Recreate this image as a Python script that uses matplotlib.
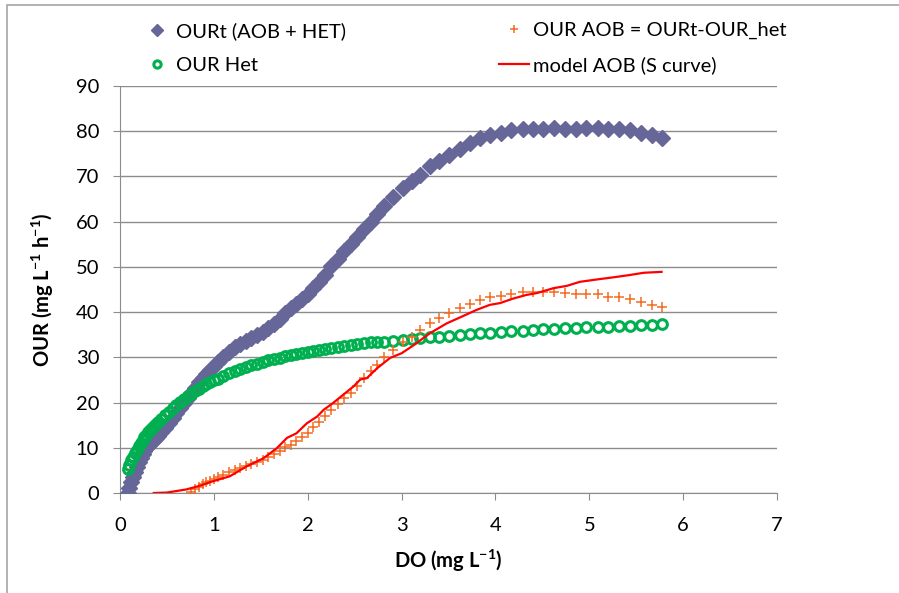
import numpy as np
import matplotlib
matplotlib.use('Agg')
import matplotlib.pyplot as plt
from matplotlib.patches import Rectangle

plt.rcParams['font.family'] = ['Lato', 'DejaVu Sans']
plt.rcParams['mathtext.fontset'] = 'custom'
plt.rcParams['mathtext.rm'] = 'Lato:bold'
plt.rcParams['mathtext.default'] = 'rm'

# DO (mg/L) shared by the measured series
do = [0.08, 0.10, 0.12, 0.14, 0.16, 0.18, 0.20, 0.22, 0.24, 0.26, 0.28, 0.30,
      0.32, 0.34, 0.36, 0.38, 0.40,
      0.44, 0.48, 0.52, 0.56, 0.60, 0.64, 0.68, 0.72, 0.76, 0.80, 0.84, 0.88,
      0.92, 0.96, 1.00,
      1.04, 1.10, 1.16, 1.22, 1.28, 1.34, 1.40, 1.46, 1.52, 1.58, 1.64, 1.70,
      1.76, 1.82, 1.88, 1.94, 2.00, 2.06, 2.12, 2.18,
      2.25, 2.32, 2.39, 2.46, 2.53, 2.60, 2.67, 2.74,
      2.81, 2.91, 3.01, 3.11, 3.20, 3.30, 3.40, 3.51, 3.62, 3.73, 3.84, 3.94,
      4.06, 4.17, 4.29, 4.40, 4.51, 4.62, 4.74, 4.86, 4.97, 5.09, 5.20, 5.32,
      5.43, 5.55, 5.67, 5.77]

our_t = [0.0, 1.2, 2.4, 3.5, 4.6, 5.7, 6.8, 7.7, 8.6, 9.3, 9.9, 10.4,
         10.9, 11.4, 11.8, 12.2, 12.6,
         13.4, 14.4, 15.5, 16.6, 17.7, 18.8, 20.0, 21.1, 22.2, 23.3, 24.5, 25.5,
         26.4, 27.2, 28.0,
         29.0, 30.1, 31.2, 32.2, 33.0, 33.7, 34.3, 34.9, 35.6, 36.4, 37.4, 38.4,
         39.8, 40.8, 41.8, 42.8, 43.9, 45.3, 46.6, 48.2,
         50.2, 51.8, 53.5, 55.0, 56.6, 58.4, 60.0, 61.7,
         63.5, 65.4, 67.4, 68.9, 70.3, 72.2, 73.5, 74.7, 76.0, 77.3, 78.4, 79.2,
         79.7, 80.3, 80.6, 80.6, 80.6, 80.8, 80.6, 80.6, 80.8, 80.8, 80.6, 80.4,
         80.3, 79.5, 79.2, 78.6]

our_het = [5.3, 6.3, 7.2, 8.0, 8.8, 9.6, 10.3, 11.0, 11.7, 12.3, 12.9, 13.4,
           13.9, 14.4, 14.8, 15.2, 15.6,
           16.4, 17.2, 18.0, 18.7, 19.4, 20.1, 20.8, 21.4, 22.0, 22.6, 23.1, 23.6,
           24.1, 24.5, 24.9,
           25.3, 25.9, 26.5, 26.9, 27.4, 27.8, 28.2, 28.6, 29.0, 29.3, 29.7, 29.9,
           30.2, 30.5, 30.7, 31.0, 31.2, 31.4, 31.6, 31.8,
           32.1, 32.3, 32.5, 32.8, 32.9, 33.1, 33.3, 33.4,
           33.5, 33.6, 33.8, 34.0, 34.2, 34.4, 34.6, 34.7, 34.9, 35.2, 35.3, 35.4,
           35.7, 35.8, 35.9, 36.0, 36.2, 36.3, 36.4, 36.5, 36.6, 36.8, 36.8, 36.9,
           37.0, 37.2, 37.2, 37.3]

nan = np.nan
# negative at low DO -> below the axis, left out
our_aob = [nan, nan, nan, nan, nan, nan, nan, nan, nan, nan, nan, nan,
           nan, nan, nan, nan, nan,
           nan, nan, nan, nan, nan, nan, nan, nan, 0.3, 0.8, 1.4, 1.9,
           2.4, 2.7, 3.1,
           3.5, 4.0, 4.6, 5.1, 5.6, 6.0, 6.4, 6.8, 7.3, 7.9, 8.7, 9.3,
           10.1, 10.6, 11.4, 12.4, 13.3, 14.5, 15.6, 17.0,
           18.3, 19.6, 20.9, 22.1, 23.7, 25.4, 26.9, 28.4,
           30.1, 31.6, 33.5, 34.6, 36.0, 37.7, 38.8, 39.9, 40.8, 41.9, 42.7, 43.3,
           43.6, 43.9, 44.5, 44.4, 44.4, 44.5, 44.2, 44.0, 44.0, 43.9, 43.4, 43.3,
           43.0, 42.3, 41.6, 41.1]

model_do = [0.36, 0.50, 0.71, 0.85, 0.99, 1.17, 1.35, 1.53, 1.67, 1.78, 1.88,
            1.99, 2.10, 2.17, 2.27, 2.40, 2.49, 2.56, 2.63, 2.74, 2.88, 3.00,
            3.13, 3.30, 3.48, 3.62, 3.80, 3.94, 4.05, 4.19, 4.33, 4.44, 4.62,
            4.76, 4.90, 5.11, 5.26, 5.43, 5.58, 5.77]
model_aob = [0.0, 0.1, 0.8, 1.6, 2.6, 3.7, 5.9, 7.7, 9.9, 12.2, 13.2,
             15.4, 16.9, 18.4, 19.9, 22.1, 23.6, 25.1, 25.4, 27.6, 29.9, 30.9,
             32.7, 35.3, 37.5, 38.8, 40.5, 41.6, 42.0, 43.0, 43.8, 44.2, 45.3,
             45.8, 46.7, 47.3, 47.7, 48.2, 48.7, 48.9]

fig = plt.figure(figsize=(8.99, 5.93), dpi=100)
ax = fig.add_axes([120/899, 1-493/593, 657/899, 407/593])

h1, = ax.plot(do, our_t, 'D', color='#666699', ms=8, mec='#666699', label='OURt (AOB + HET)', zorder=3)
h2, = ax.plot(do, our_aob, '+', color='#F26B21', ms=7, mew=1.1, label='OUR AOB = OURt-OUR_het', zorder=4)
h3, = ax.plot(do, our_het, 'o', mfc='none', mec='#00B050', ms=7, mew=2.2, label='OUR Het', zorder=3)
h4, = ax.plot(model_do, model_aob, '-', color='#FF0000', lw=1.6, label='model AOB (S curve)', zorder=5)

ax.set_xlim(0, 7)
ax.set_ylim(0, 90)
ax.set_xticks(range(0, 8))
ax.set_yticks(range(0, 91, 10))
ax.grid(axis='y', color='#8c8c8c', lw=1)
ax.set_axisbelow(True)
for s in ['top', 'right']:
    ax.spines[s].set_visible(False)
for s in ['left', 'bottom']:
    ax.spines[s].set_color('#8c8c8c')
ax.tick_params(axis='both', colors='#8c8c8c', labelcolor='black', labelsize=14.5, length=5, direction='out')
ax.tick_params(axis='x', pad=12)
ax.tick_params(axis='y', pad=10)

ax.set_xlabel('DO (mg L$^{-1}$)', fontsize=14.5, fontweight='bold', labelpad=10)
ax.set_ylabel('OUR (mg L$^{-1}$ h$^{-1}$)', fontsize=14.5, fontweight='bold', labelpad=14)

leg_kw = dict(frameon=False, fontsize=14.5, handlelength=1.5, handletextpad=0.2,
              markerscale=0.75, labelspacing=0.85, borderpad=0, loc='upper left')
leg1 = fig.legend(handles=[h1, h3], bbox_to_anchor=(132/899, 1-12/593), **leg_kw)
leg2 = fig.legend(handles=[h2, h4], bbox_to_anchor=(489/899, 1-12/593), **leg_kw)

fig.add_artist(Rectangle((7/899, -0.1), 2, 1.1 - 5/593, transform=fig.transFigure,
                         fill=False, edgecolor='#a6a6a6', lw=1.2))

fig.savefig('out.png', dpi=100)
